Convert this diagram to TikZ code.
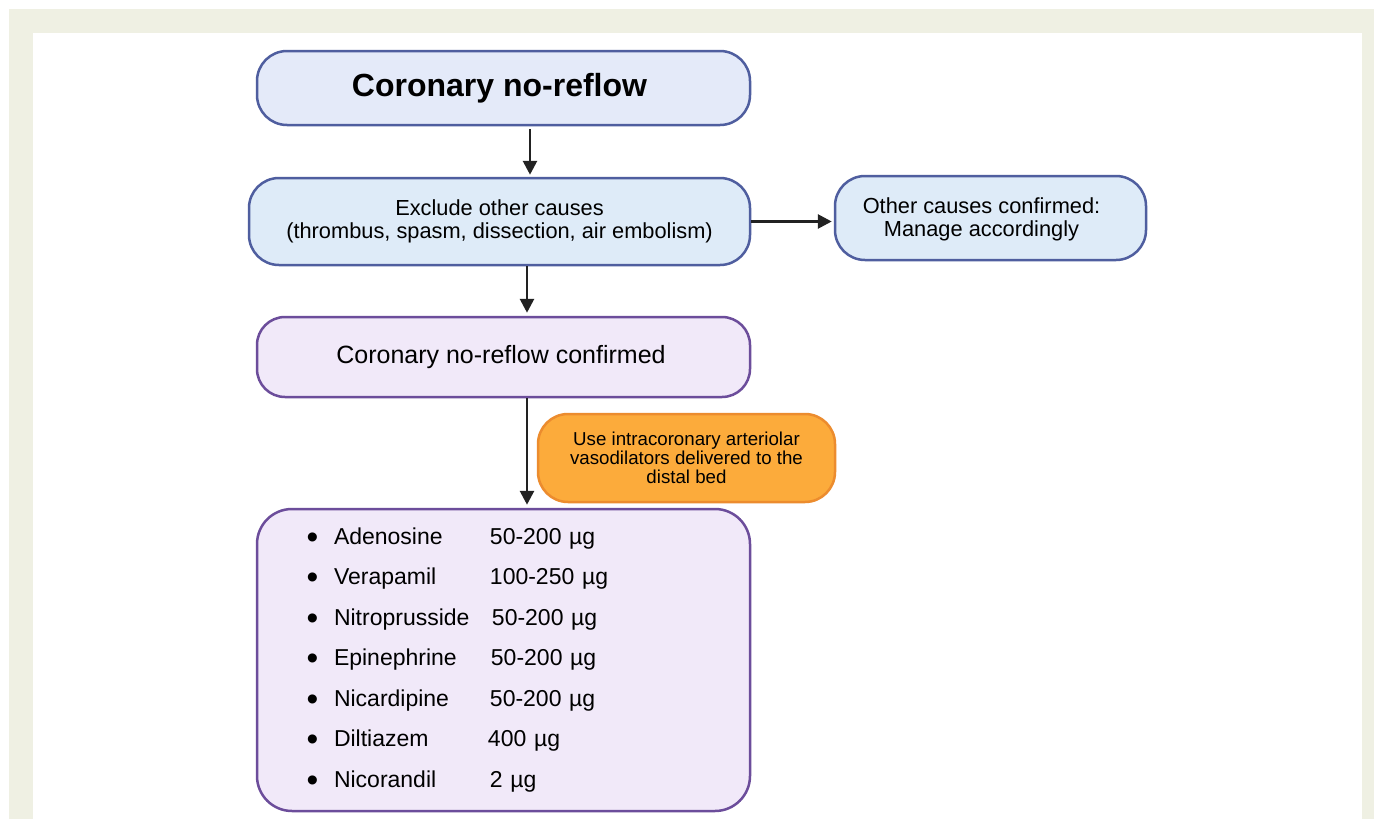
\documentclass[tikz,border=0pt]{standalone}
\usepackage{fontspec}
\setmainfont{Liberation Sans}
\usetikzlibrary{arrows.meta}

\definecolor{framebg}{HTML}{EFF0E3}
\definecolor{blueline}{HTML}{4F5E9F}
\definecolor{titlefill}{HTML}{E4EAF9}
\definecolor{bluefill}{HTML}{DEEBF8}
\definecolor{purpleline}{HTML}{6C4D9B}
\definecolor{purplefill}{HTML}{F1E9F9}
\definecolor{orangefill}{HTML}{FCAB3B}
\definecolor{orangeline}{HTML}{EC8C2E}
\definecolor{arrowcol}{HTML}{222222}

% one line of the drug list: bullet, name, dose (optional nudge of the dose column)
\newcommand\drugline[3][0pt]{\makebox[29pt][l]{\hspace{1.5pt}\raisebox{-3.6pt}{\scalebox{1.45}{•}}}\makebox[156pt][l]{#2}\hspace{#1}#3}

\begin{document}
\begin{tikzpicture}[x=1pt,y=-1pt,
  boxbase/.style={draw, line width=2.5pt, inner sep=0pt},
  box/.style={boxbase, align=center},
  bluebox/.style={box, draw=blueline, fill=bluefill},
  purplebox/.style={box, draw=purpleline, fill=purplefill},
  arr/.style={draw=arrowcol, line width=2.8pt, -{Triangle[length=14pt,width=14pt]}}
]
\useasboundingbox (0,0) rectangle (1374,819);

% page frame
\fill[framebg] (9,9) rectangle (1374,830);
\fill[white] (33,33) rectangle (1362,830);

% boxes
\node[boxbase, draw=blueline, fill=titlefill, minimum width=493pt, minimum height=74pt,
      rounded corners=30pt, font=\fontsize{32}{36}\selectfont\bfseries]
      (title) at (503.5,88) {Coronary no-reflow\hspace*{8pt}};

\node[bluebox, minimum width=501pt, minimum height=87pt, rounded corners=30pt,
      font=\fontsize{21.8}{23}\selectfont]
      (exclude) at (499.5,221.5) {Exclude other causes\\(thrombus, spasm, dissection, air embolism)};

\node[boxbase, draw=blueline, fill=bluefill, minimum width=311pt, minimum height=84pt,
      rounded corners=30pt, font=\fontsize{21.8}{23}\selectfont]
      (other) at (990.5,218)
      {\hspace*{-18pt}\raisebox{-2pt}[\height][\depth]{\begin{tabular}{@{}c@{}}Other causes confirmed:\\Manage accordingly\end{tabular}}};

\node[boxbase, draw=purpleline, fill=purplefill, minimum width=493pt, minimum height=80pt,
      rounded corners=28pt, font=\fontsize{25}{28}\selectfont]
      (confirmed) at (503.5,357) {Coronary no-reflow confirmed\hspace*{5pt}};

\node[box, draw=orangeline, fill=orangefill, minimum width=297pt, minimum height=88pt,
      rounded corners=30pt, font=\fontsize{18.7}{19}\selectfont]
      (hint) at (686.5,458) {Use intracoronary arteriolar\\vasodilators delivered to the\\distal bed};

\node[purplebox, minimum width=493pt, minimum height=302pt, rounded corners=35pt,
      text width=397pt, inner xsep=48pt, align=left, font=\fontsize{23}{40.5}\selectfont]
      (drugs) at (503.5,660) {%
        \drugline{Adenosine}{50-200 µg}\\
        \drugline{Verapamil}{100-250 µg}\\
        \drugline[2pt]{Nitroprusside}{50-200 µg}\\
        \drugline[1pt]{Epinephrine}{50-200 µg}\\
        \drugline{Nicardipine}{50-200 µg}\\
        \drugline[-2pt]{Diltiazem}{400 µg}\\
        \drugline{Nicorandil}{2 µg}};

% connectors
\draw[arr, shorten <=3pt, shorten >=2pt]
  ([xshift=26.5pt]title.south) -- ([xshift=26.5pt]title.south |- exclude.north);
\draw[arr, shorten >=3pt]
  ([xshift=27.5pt]exclude.south) -- ([xshift=27.5pt]exclude.south |- confirmed.north);
\draw[arr, shorten >=2pt]
  (exclude.east) -- (exclude.east -| other.west);
\draw[arr, shorten >=3pt]
  ([xshift=23.5pt]confirmed.south) -- ([xshift=23.5pt]confirmed.south |- drugs.north);
\end{tikzpicture}
\end{document}
